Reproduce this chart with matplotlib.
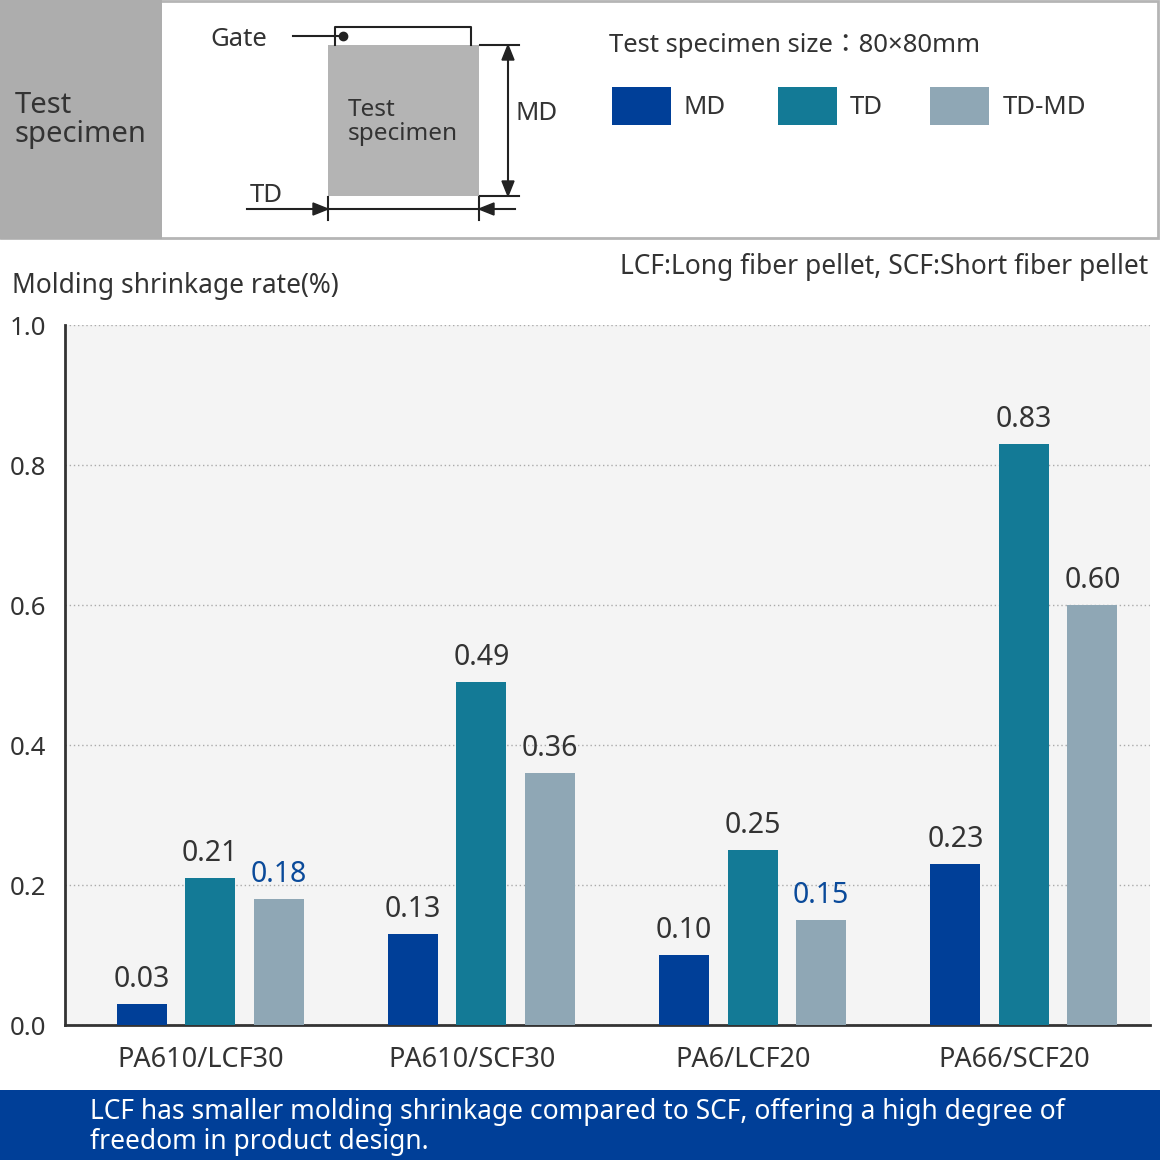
import numpy as np
import matplotlib
matplotlib.use("Agg")
import matplotlib.pyplot as plt
from matplotlib.patches import Rectangle, Polygon
from matplotlib.transforms import blended_transform_factory

plt.rcParams['font.family'] = ['Noto Sans', 'Noto Sans CJK JP', 'DejaVu Sans']

# data
categories = ['PA610/LCF30', 'PA610/SCF30', 'PA6/LCF20', 'PA66/SCF20']
series = ['MD', 'TD', 'TD-MD']
md = [0.03, 0.13, 0.10, 0.23]
td = [0.21, 0.49, 0.25, 0.83]
td_md = [0.18, 0.36, 0.15, 0.60]
label_md = ['0.03', '0.13', '0.10', '0.23']
label_td = ['0.21', '0.49', '0.25', '0.83']
label_tdmd = ['0.18', '0.36', '0.15', '0.60']
y_ticks = [0.0, 0.2, 0.4, 0.6, 0.8, 1.0]

colors = ['#003f98', '#137a96', '#8fa7b5']
dark = '#333333'
blue_txt = '#0a4a9a'

W = H = 1160
fig = plt.figure(figsize=(11.6, 11.6), dpi=100)

# overlay axes in pixel coords (y down)
ov = fig.add_axes([0, 0, 1, 1], zorder=5)
ov.set_xlim(0, W)
ov.set_ylim(H, 0)
ov.axis('off')
ov.patch.set_alpha(0)

# header box
ov.add_patch(Rectangle((1, 1), 1157, 237, facecolor='white', edgecolor='#b5b5b5', lw=2))
ov.add_patch(Rectangle((0, 0), 162, 239, facecolor='#adadad', edgecolor='none'))
ov.text(15, 120, 'Test\nspecimen', fontsize=21, color=dark, va='center', ha='left',
        linespacing=1.0)

# specimen diagram
ov.plot([335, 335, 471, 471], [45, 27, 27, 45], color='#222222', lw=1.5)
ov.add_patch(Rectangle((328, 45), 151, 151, facecolor='#b4b4b4', edgecolor='none'))
ov.plot([293, 343], [36, 36], color='#222222', lw=1.5)
ov.plot(343, 36, 'o', color='#222222', ms=6)
ov.text(210, 40, 'Gate', fontsize=18.5, color=dark, va='center', ha='left')
ov.text(348, 122, 'Test\nspecimen', fontsize=17.5, color=dark, va='center', ha='left',
        linespacing=1.05)
# MD arrow
ov.plot([480, 519], [45, 45], color='#222222', lw=1.5)
ov.plot([480, 519], [196, 196], color='#222222', lw=1.5)
ov.plot([508, 508], [55, 186], color='#222222', lw=1.5)
ov.add_patch(Polygon([[508, 45], [502, 60], [514, 60]], color='#222222'))
ov.add_patch(Polygon([[508, 196], [502, 181], [514, 181]], color='#222222'))
ov.text(516, 114, 'MD', fontsize=18.5, color=dark, va='center', ha='left')
# TD arrow
ov.plot([247, 515], [209, 209], color='#222222', lw=1.5)
ov.plot([328, 328], [197, 220], color='#222222', lw=1.5)
ov.plot([479, 479], [197, 220], color='#222222', lw=1.5)
ov.add_patch(Polygon([[328, 209], [313, 203], [313, 215]], color='#222222'))
ov.add_patch(Polygon([[479, 209], [494, 203], [494, 215]], color='#222222'))
ov.text(250, 195, 'TD', fontsize=18.5, color=dark, va='center', ha='left')

# size text and legend
ov.text(609, 46, 'Test specimen size\uff1a80\u00d780mm', fontsize=18.5, color=dark,
        va='center', ha='left')
leg_x = [612, 778, 930]
leg_tx = [684, 850, 1003]
for c, name, lx, tx in zip(colors, series, leg_x, leg_tx):
    ov.add_patch(Rectangle((lx, 87), 59, 38, facecolor=c, edgecolor='none'))
    ov.text(tx, 107, name, fontsize=18.5, color=dark, va='center', ha='left')

ov.text(1148, 267, 'LCF:Long fiber pellet, SCF:Short fiber pellet', fontsize=19,
        color=dark, va='center', ha='right')
ov.text(12, 286, 'Molding shrinkage rate(%)', fontsize=19, color=dark,
        va='center', ha='left')

# bottom banner
ov.add_patch(Rectangle((0, 1090), W, 70, facecolor='#003f98', edgecolor='none'))
ov.text(90, 1127, 'LCF has smaller molding shrinkage compared to SCF, offering a high degree of\n'
        'freedom in product design.', fontsize=19, color='white', va='center', ha='left',
        linespacing=1.05)

# chart axes
ax = fig.add_axes([65 / W, (H - 1025) / H, 1085 / W, 700 / H])
ax.set_facecolor('#f4f4f4')
x = np.arange(len(categories))
step = 0.2525
width = 0.184
offset = 0.035
vals = [md, td, td_md]
labels = [label_md, label_td, label_tdmd]
for i, (v, c, lab) in enumerate(zip(vals, colors, labels)):
    xs = x + offset + (i - 1) * step
    ax.bar(xs, v, width=width, color=c, zorder=3)
    for xi, vi, li in zip(xs, v, lab):
        col = blue_txt if li in ('0.18', '0.15') else dark
        ax.text(xi, vi + 0.014, li, ha='center', va='bottom', fontsize=20.5,
                color=col)

ax.set_xlim(-0.5, 3.5)
ax.set_ylim(0, 1.0)
ax.set_yticks(y_ticks)
ax.set_yticklabels([])
tr = blended_transform_factory(fig.transFigure, ax.transData)
for t in y_ticks:
    fig.text(10 / W, t - 0.005, '%.1f' % t, transform=tr, ha='left', va='center',
             fontsize=18.5, color=dark)
ax.set_xticks(x)
ax.set_xticklabels(categories)
ax.tick_params(axis='both', length=0, labelsize=19.5, labelcolor=dark)
ax.tick_params(axis='x', pad=15)
ax.grid(axis='y', linestyle=(0, (1, 2)), color='#aaaaaa', lw=1, zorder=0)
ax.set_axisbelow(True)
for s in ['top', 'right']:
    ax.spines[s].set_visible(False)
ax.spines['left'].set_color(dark)
ax.spines['bottom'].set_color(dark)
ax.spines['left'].set_linewidth(2)
ax.spines['bottom'].set_linewidth(2)

fig.savefig('out.png', dpi=100, facecolor='white')
